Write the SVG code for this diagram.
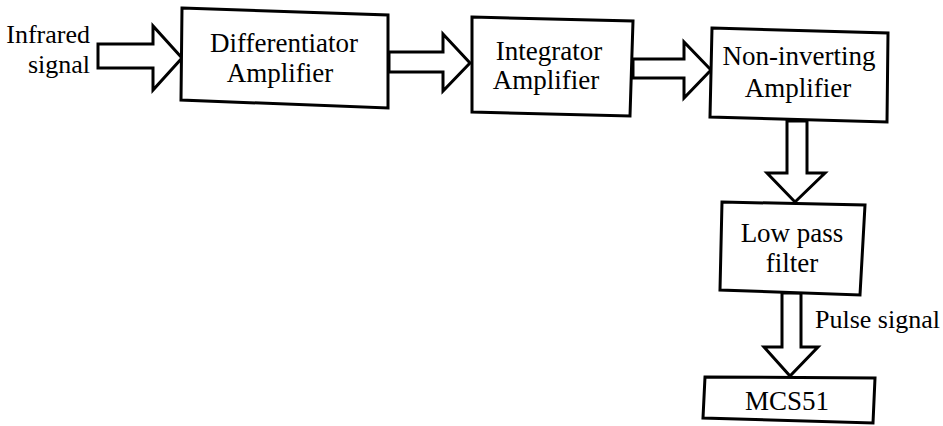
<svg xmlns="http://www.w3.org/2000/svg" width="943" height="426" viewBox="0 0 943 426">
<style>
.box{fill:#fff;stroke:#000;stroke-width:3;stroke-linejoin:miter}
.arr{fill:#fff;stroke:#000;stroke-width:3;stroke-linejoin:miter}
.c{text-anchor:middle}
</style>
<rect width="943" height="426" fill="#fff"/>
<g id="connectors">
<polygon class="arr" points="98,44 153,44 153,26 182,58 153,90 153,68 98,68"/>
<polygon class="arr" points="389,52 443,52 443,34 470,63 443,91 443,72 389,72"/>
<polygon class="arr" points="633,59 684,59 684,42 711,70 684,98 684,78 633,78"/>
<polygon class="arr" points="787,121 787,173 767,173 795,202 825,173 807,173 807,121"/>
<polygon class="arr" points="782,293 782,347 764,347 790,376 818,347 801,347 801,293"/>
</g>
<g font-family="Liberation Serif, Times New Roman, DejaVu Serif, serif" font-size="27" fill="#000">
<g id="input-label" font-size="26">
<text x="90" y="43" text-anchor="end">Infrared</text>
<text x="90" y="73" text-anchor="end">signal</text>
</g>
<g id="differentiator">
<polygon class="box" points="182,8 388,15 388,108 181,100"/>
<text class="c" x="284" y="52">Differentiator</text>
<text class="c" x="280" y="82">Amplifier</text>
</g>
<g id="integrator">
<polygon class="box" points="472,17 633,21 630,116 472,112"/>
<text class="c" x="549" y="60">Integrator</text>
<text class="c" x="546" y="89">Amplifier</text>
</g>
<g id="noninverting">
<polygon class="box" points="712,28 888,33 887,122 710,117"/>
<text class="c" x="799" y="65">Non-inverting</text>
<text class="c" x="798" y="97">Amplifier</text>
</g>
<g id="lowpass">
<polygon class="box" points="722,202 865,205 860,295 720,290"/>
<text class="c" x="792" y="242">Low pass</text>
<text class="c" x="792" y="272">filter</text>
</g>
<g id="pulse-label" font-size="26">
<text x="815" y="328">Pulse signal</text>
</g>
<g id="mcs51">
<polygon class="box" points="705,377 875,378 873,423 703,418"/>
<text class="c" x="787" y="410">MCS51</text>
</g>
</g>
</svg>
